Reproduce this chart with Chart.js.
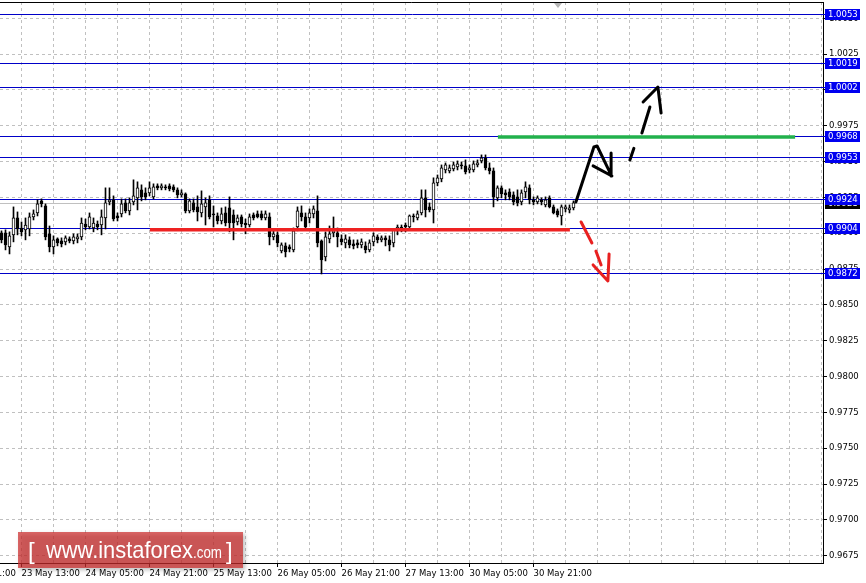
<!DOCTYPE html>
<html>
<head>
<meta charset="utf-8">
<title>H1 chart</title>
<script src="https://cdn.jsdelivr.net/npm/chart.js@4.4.0/dist/chart.umd.min.js"></script>
<style>
  html, body { margin: 0; padding: 0; background: #fff; }
  canvas { display: block; }
</style>
</head>
<body>
<canvas id="chart" width="866" height="583"></canvas>
<script>
// hourly candles, 23 May 08:00 .. 31 May 07:00
const opens = [
  0.99003, 0.99003, 0.98905, 0.98989, 0.99107, 0.99037, 0.99024, 0.99030, 0.99114, 0.99142,
  0.99226, 0.99191, 0.98996, 0.98905, 0.98961, 0.98947, 0.98940, 0.98961, 0.98947, 0.98961,
  0.98975, 0.99065, 0.99044, 0.99037, 0.99065, 0.99058, 0.99107, 0.99219, 0.99233, 0.99121,
  0.99135, 0.99212, 0.99156, 0.99219, 0.99247, 0.99303, 0.99282, 0.99282, 0.99254, 0.99331,
  0.99317, 0.99324, 0.99331, 0.99324, 0.99303, 0.99268, 0.99275, 0.99156, 0.99212, 0.99184,
  0.99142, 0.99184, 0.99233, 0.99135, 0.99121, 0.99086, 0.99142, 0.99177, 0.99128, 0.99079,
  0.99114, 0.99072, 0.99058, 0.99128, 0.99135, 0.99135, 0.99107, 0.99114, 0.98975, 0.98989,
  0.98877, 0.98912, 0.98905, 0.98884, 0.99044, 0.99142, 0.99114, 0.99107, 0.99135, 0.99156,
  0.98947, 0.98835, 0.98961, 0.99003, 0.99003, 0.98961, 0.98933, 0.98954, 0.98926, 0.98933,
  0.98919, 0.98912, 0.98884, 0.98940, 0.98975, 0.98954, 0.98968, 0.98954, 0.98933, 0.99030,
  0.99044, 0.99058, 0.99044, 0.99121, 0.99107, 0.99142, 0.99247, 0.99184, 0.99163, 0.99352,
  0.99380, 0.99442, 0.99435, 0.99449, 0.99463, 0.99477, 0.99470, 0.99442, 0.99442, 0.99477,
  0.99505, 0.99526, 0.99456, 0.99435, 0.99247, 0.99317, 0.99282, 0.99289, 0.99268, 0.99254,
  0.99219, 0.99289, 0.99317, 0.99233, 0.99219, 0.99233, 0.99198, 0.99247, 0.99184, 0.99156,
  0.99121, 0.99170, 0.99163, 0.99177
];
const highs = [
  0.99017, 0.99024, 0.99010, 0.99184, 0.99149, 0.99079, 0.99107, 0.99142, 0.99163, 0.99233,
  0.99240, 0.99205, 0.99051, 0.98982, 0.98968, 0.98968, 0.98982, 0.98975, 0.98996, 0.98996,
  0.99107, 0.99100, 0.99142, 0.99107, 0.99086, 0.99163, 0.99317, 0.99317, 0.99261, 0.99142,
  0.99240, 0.99240, 0.99247, 0.99373, 0.99359, 0.99338, 0.99317, 0.99359, 0.99345, 0.99345,
  0.99345, 0.99338, 0.99345, 0.99338, 0.99317, 0.99303, 0.99282, 0.99240, 0.99240, 0.99261,
  0.99296, 0.99247, 0.99261, 0.99191, 0.99142, 0.99177, 0.99184, 0.99254, 0.99163, 0.99128,
  0.99128, 0.99100, 0.99135, 0.99142, 0.99156, 0.99156, 0.99156, 0.99142, 0.99024, 0.99010,
  0.98933, 0.98933, 0.98919, 0.99037, 0.99184, 0.99191, 0.99142, 0.99170, 0.99191, 0.99261,
  0.98954, 0.99010, 0.99051, 0.99114, 0.99037, 0.98989, 0.98989, 0.98975, 0.98954, 0.98954,
  0.98961, 0.98940, 0.98954, 0.99003, 0.98989, 0.98982, 0.98982, 0.98982, 0.99030, 0.99058,
  0.99058, 0.99072, 0.99128, 0.99135, 0.99156, 0.99303, 0.99303, 0.99212, 0.99387, 0.99407,
  0.99477, 0.99491, 0.99477, 0.99498, 0.99505, 0.99498, 0.99512, 0.99477, 0.99505, 0.99512,
  0.99547, 0.99547, 0.99491, 0.99456, 0.99331, 0.99331, 0.99303, 0.99310, 0.99289, 0.99303,
  0.99303, 0.99359, 0.99338, 0.99254, 0.99261, 0.99247, 0.99254, 0.99261, 0.99198, 0.99170,
  0.99198, 0.99198, 0.99198, 0.99226
];
const lows = [
  0.98933, 0.98884, 0.98856, 0.98940, 0.98989, 0.98982, 0.98954, 0.98982, 0.99093, 0.99121,
  0.99184, 0.98954, 0.98870, 0.98856, 0.98912, 0.98905, 0.98919, 0.98933, 0.98926, 0.98933,
  0.98954, 0.99024, 0.99030, 0.99010, 0.99024, 0.98989, 0.99030, 0.99198, 0.99086, 0.99086,
  0.99114, 0.99142, 0.99128, 0.99198, 0.99163, 0.99226, 0.99233, 0.99261, 0.99240, 0.99303,
  0.99303, 0.99303, 0.99296, 0.99289, 0.99247, 0.99254, 0.99142, 0.99142, 0.99149, 0.99086,
  0.99114, 0.99058, 0.99100, 0.99044, 0.99065, 0.99065, 0.99051, 0.99010, 0.98954, 0.99058,
  0.99044, 0.98996, 0.99044, 0.99093, 0.99107, 0.99093, 0.99093, 0.98919, 0.98954, 0.98905,
  0.98863, 0.98835, 0.98870, 0.98870, 0.99017, 0.99086, 0.99030, 0.99072, 0.99107, 0.98905,
  0.98716, 0.98807, 0.98933, 0.98975, 0.98905, 0.98919, 0.98898, 0.98898, 0.98891, 0.98898,
  0.98898, 0.98863, 0.98870, 0.98912, 0.98933, 0.98940, 0.98912, 0.98877, 0.98905, 0.98989,
  0.99010, 0.99010, 0.99024, 0.99079, 0.99093, 0.99128, 0.99114, 0.99149, 0.99072, 0.99331,
  0.99359, 0.99421, 0.99421, 0.99435, 0.99442, 0.99449, 0.99414, 0.99421, 0.99428, 0.99463,
  0.99491, 0.99442, 0.99414, 0.99184, 0.99226, 0.99247, 0.99233, 0.99233, 0.99198, 0.99191,
  0.99198, 0.99247, 0.99205, 0.99198, 0.99205, 0.99198, 0.99184, 0.99177, 0.99135, 0.99114,
  0.99058, 0.99149, 0.99142, 0.99163
];
const closes = [
  0.98954, 0.98919, 0.98982, 0.99107, 0.99030, 0.99010, 0.99058, 0.99114, 0.99135, 0.99205,
  0.99205, 0.98975, 0.98905, 0.98954, 0.98933, 0.98926, 0.98968, 0.98947, 0.98975, 0.98975,
  0.99072, 0.99044, 0.99114, 0.99072, 0.99044, 0.99114, 0.99212, 0.99233, 0.99100, 0.99107,
  0.99205, 0.99156, 0.99212, 0.99261, 0.99317, 0.99254, 0.99254, 0.99317, 0.99324, 0.99317,
  0.99331, 0.99317, 0.99310, 0.99303, 0.99268, 0.99282, 0.99156, 0.99226, 0.99163, 0.99149,
  0.99205, 0.99212, 0.99114, 0.99128, 0.99086, 0.99135, 0.99072, 0.99072, 0.99072, 0.99107,
  0.99065, 0.99058, 0.99114, 0.99107, 0.99114, 0.99107, 0.99135, 0.98975, 0.98996, 0.98933,
  0.98919, 0.98870, 0.98891, 0.99017, 0.99156, 0.99114, 0.99044, 0.99142, 0.99170, 0.98933,
  0.98814, 0.98975, 0.98996, 0.99017, 0.98975, 0.98940, 0.98961, 0.98919, 0.98912, 0.98919,
  0.98940, 0.98884, 0.98933, 0.98982, 0.98954, 0.98968, 0.98954, 0.98919, 0.99024, 0.99044,
  0.99024, 0.99044, 0.99121, 0.99114, 0.99135, 0.99247, 0.99163, 0.99163, 0.99352, 0.99387,
  0.99456, 0.99477, 0.99456, 0.99477, 0.99484, 0.99470, 0.99428, 0.99456, 0.99484, 0.99491,
  0.99526, 0.99456, 0.99435, 0.99254, 0.99317, 0.99275, 0.99268, 0.99254, 0.99219, 0.99212,
  0.99282, 0.99324, 0.99233, 0.99219, 0.99247, 0.99219, 0.99233, 0.99184, 0.99142, 0.99128,
  0.99184, 0.99184, 0.99177, 0.99212
];

// bar index of each time label
const timeTickIdx = [-11, 5, 21, 37, 53, 69, 85, 101, 117, 133];
const timeTickLabels = ['20 May 21:00', '23 May 13:00', '24 May 05:00', '24 May 21:00', '25 May 13:00',
  '26 May 05:00', '26 May 21:00', '27 May 13:00', '30 May 05:00', '30 May 21:00'];
const priceTicks = [0.9675, 0.9700, 0.9725, 0.9750, 0.9775, 0.9800, 0.9825, 0.9850,
  0.9875, 0.9900, 0.9925, 0.9950, 0.9975, 1.0000, 1.0025, 1.0050];
const levelPrices = [1.0053, 1.0019, 1.0002, 0.9968, 0.9953, 0.9924, 0.9904, 0.9872];
const lastPrice = 0.9921;

// hand drawn marks: [bar index, price]
const supportZone = [[37.1, 0.99025], [142.1, 0.99025]];
const resistZone = [[124.1, 0.99672], [198.4, 0.99672]];
const upMove = [[143.6, 0.99218], [148.1, 0.99602], [148.9, 0.99609], [152.4, 0.99407]];
const upMoveHead = [[147.9, 0.99470], [152.6, 0.99400], [152.4, 0.99560]];
const breakDash1 = [[157.1, 0.99511], [158.1, 0.99593]];
const breakDash2 = [[160.1, 0.99700], [162.1, 0.99881]];
const breakHead = [[160.4, 0.99916], [164.1, 1.00021], [164.9, 0.99839]];
const dropDash1 = [[144.9, 0.99079], [147.6, 0.98932]];
const dropDash2 = [[148.6, 0.98876], [149.9, 0.98779]];
const dropHead = [[147.9, 0.98779], [151.6, 0.98667], [151.9, 0.98856]];

const FONT = 'DejaVu Sans';
const labelFor = {};
timeTickIdx.forEach((v, i) => labelFor[v] = timeTickLabels[i]);

function strokes(...parts) {
    const out = [];
    parts.forEach((p, k) => {
        if (k > 0) out.push({ x: p[0][0], y: null });
        p.forEach(pt => out.push({ x: pt[0], y: pt[1] }));
    });
    return out;
}

const bodies = opens.map((o, i) => ({ x: i, y: [Math.min(o, closes[i]), Math.max(o, closes[i])] }));
const wicks = highs.map((h, i) => ({ x: i, y: [lows[i], h] }));
const bodyColors = opens.map((o, i) => closes[i] >= o ? '#ffffff' : '#000000');

function markLine(data, color, width, cap) {
    return {
        type: 'line', data: data, borderColor: color, borderWidth: width,
        borderCapStyle: cap, borderJoinStyle: 'round', pointRadius: 0,
        spanGaps: false, tension: 0, order: 1
    };
}

const overlay = {
    id: 'overlay',
    beforeDatasetsDraw(chart) {
        const { ctx, chartArea: a, scales: { y } } = chart;
        const hline = (p, color, ext) => {
            const py = Math.round(y.getPixelForValue(p)) + 0.5;
            ctx.strokeStyle = color;
            ctx.beginPath();
            ctx.moveTo(a.left, py);
            ctx.lineTo(a.right + ext, py);
            ctx.stroke();
        };
        ctx.save();
        ctx.lineWidth = 1;
        hline(lastPrice, '#c0c0c0', 0);
        levelPrices.forEach(p => hline(p, '#0000c8', 2));
        ctx.restore();
    },
    afterDraw(chart) {
        const { ctx, chartArea: a, scales: { y } } = chart;
        ctx.save();
        // frame top
        ctx.strokeStyle = '#000';
        ctx.lineWidth = 1;
        ctx.beginPath();
        ctx.moveTo(a.left, a.top + 0.5);
        ctx.lineTo(a.right + 0.5, a.top + 0.5);
        ctx.stroke();
        // chart shift marker
        ctx.fillStyle = '#b4b4b4';
        ctx.beginPath();
        ctx.moveTo(554, a.top + 1);
        ctx.lineTo(562, a.top + 1);
        ctx.lineTo(558, a.top + 6);
        ctx.closePath();
        ctx.fill();

        // price boxes
        ctx.font = '8.5px "' + FONT + '"';
        ctx.textBaseline = 'middle';
        const box = (p, bg) => {
            const py = Math.round(y.getPixelForValue(p));
            ctx.fillStyle = bg;
            ctx.fillRect(a.right + 2, py - 5, 35, 11);
            ctx.fillStyle = '#fff';
            ctx.fillText(p.toFixed(4), a.right + 5, py + 0.5);
        };
        box(lastPrice, '#000000');
        levelPrices.forEach(p => box(p, '#0000f0'));

        // watermark
        ctx.shadowColor = 'rgba(0,0,0,0.35)';
        ctx.shadowBlur = 4;
        ctx.shadowOffsetX = 2;
        ctx.shadowOffsetY = 2;
        ctx.fillStyle = 'rgba(205,45,45,0.72)';
        ctx.fillRect(18, 532, 225, 36);
        ctx.shadowColor = 'transparent';
        ctx.fillStyle = '#fff';
        ctx.textBaseline = 'alphabetic';
        const fitText = (txt, size, x, w) => {
            ctx.font = size + 'px "Liberation Sans"';
            const k = w / ctx.measureText(txt).width;
            ctx.save();
            ctx.translate(x, 558);
            ctx.scale(k, 1);
            ctx.fillText(txt, 0, 0);
            ctx.restore();
        };
        ctx.font = '24px "Liberation Sans"';
        ctx.fillText('[', 28, 559);
        ctx.fillText(']', 226, 559);
        fitText('www.instaforex', 24, 46, 147);
        fitText('.com', 17, 193, 29);
        ctx.restore();
    }
};

new Chart(document.getElementById('chart'), {
    type: 'bar',
    data: {
        datasets: [
            { data: wicks, backgroundColor: '#000', barThickness: 1, grouped: false, order: 3 },
            {
                data: bodies, backgroundColor: bodyColors, borderColor: '#000', borderWidth: 1,
                borderSkipped: false, barThickness: 3, grouped: false, order: 2
            },
            markLine(strokes(supportZone), '#ee2222', 3.5, 'butt'),
            markLine(strokes(resistZone), '#22b14c', 3.5, 'butt'),
            markLine(strokes(upMove, upMoveHead, breakDash1, breakDash2, breakHead), '#000', 3, 'round'),
            markLine(strokes(dropDash1, dropDash2, dropHead), '#e82020', 3, 'round')
        ]
    },
    options: {
        responsive: false,
        devicePixelRatio: 1,
        animation: false,
        events: [],
        layout: { padding: { top: 2, left: 0, right: 0, bottom: 0 } },
        plugins: { legend: { display: false }, tooltip: { enabled: false } },
        scales: {
            x: {
                type: 'linear',
                offset: false,
                min: -0.375,
                max: 205.375,
                afterBuildTicks: (s) => {
                    const t = [];
                    for (let v = -11; v <= 205; v += 8) t.push({ value: v });
                    s.ticks = t;
                },
                afterFit: (s) => {
                    s.height = 20;
                    s.paddingLeft = 0; s.paddingRight = 0; s.paddingTop = 0; s.paddingBottom = 0;
                },
                grid: {
                    offset: false,
                    color: '#c0c0c0',
                    tickLength: 4,
                    tickColor: (c) => (c.tick && labelFor[c.tick.value]) ? '#000' : 'rgba(0,0,0,0)'
                },
                border: { color: '#000', width: 1, dash: [3, 3] },
                ticks: {
                    autoSkip: false, maxRotation: 0, minRotation: 0, align: 'start', padding: 2,
                    color: '#000', font: { family: FONT, size: 8.5 },
                    callback: (v) => labelFor[v] || ''
                }
            },
            y: {
                type: 'linear',
                position: 'right',
                min: 0.96699,
                max: 1.00614,
                afterBuildTicks: (s) => { s.ticks = priceTicks.map(v => ({ value: v })); },
                afterFit: (s) => {
                    s.width = 43;
                    s.paddingLeft = 0; s.paddingRight = 0; s.paddingTop = 0; s.paddingBottom = 0;
                },
                grid: { color: '#c0c0c0', tickLength: 4, tickColor: '#000' },
                border: { color: '#000', width: 1, dash: [3, 3] },
                ticks: {
                    autoSkip: false, padding: 2, color: '#000',
                    font: { family: FONT, size: 8.5 },
                    callback: (v) => v.toFixed(4)
                }
            }
        }
    },
    plugins: [overlay]
});
</script>
</body>
</html>
